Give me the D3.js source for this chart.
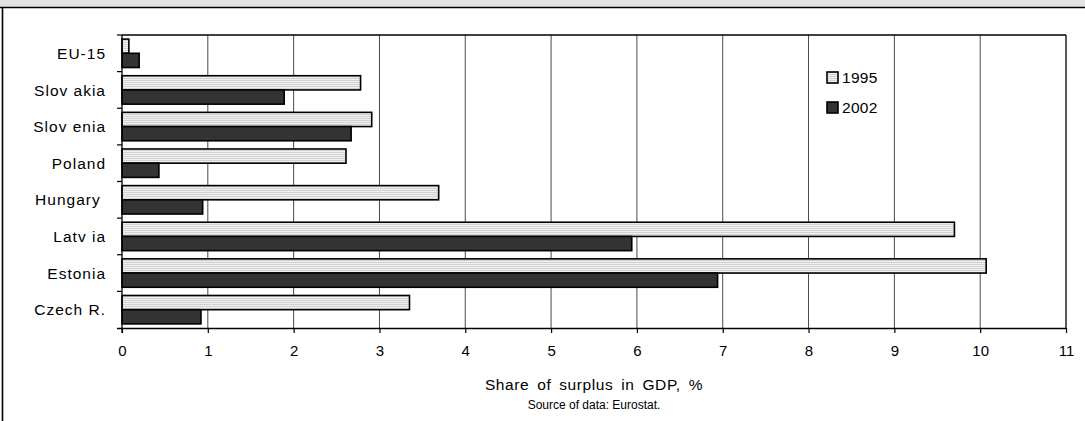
<!DOCTYPE html>
<html>
<head>
<meta charset="utf-8">
<script src="https://cdn.jsdelivr.net/npm/d3@7"></script>
<style>
  html, body { margin: 0; padding: 0; background: #fff; }
  svg { display: block; font-family: "Liberation Sans", Arial, sans-serif; }
  text { white-space: pre; }
</style>
</head>
<body>
<svg id="chart" width="1085" height="421"></svg>
<script>
// Government surplus as a share of GDP, 1995 vs 2002
const countries = ["Czech R.", "Estonia", "Latv ia", "Hungary ", "Poland", "Slov enia", "Slov akia", "EU-15"];
const years = ["1995", "2002"];
const values1995 = [3.35, 10.07, 9.70, 3.69, 2.61, 2.91, 2.78, 0.08];
const values2002 = [0.92, 6.94, 5.94, 0.94, 0.43, 2.67, 1.89, 0.20];
const xTicks = [0, 1, 2, 3, 4, 5, 6, 7, 8, 9, 10, 11];
const xTitle = "Share of surplus in GDP, %";
const sourceNote = "Source of data: Eurostat.";

const svg = d3.select("#chart");
const W = 1085, H = 421;
const plot = { left: 122, right: 1066, top: 35, bottom: 328 };

// header strip and outer frame
svg.append("rect").attr("x", 0).attr("y", 0).attr("width", W).attr("height", 7.5).attr("fill", "#e3e3e3");
svg.append("line").attr("x1", 0).attr("x2", W).attr("y1", 7.5).attr("y2", 7.5).attr("stroke", "#000").attr("stroke-width", 1.6);
svg.append("line").attr("x1", 2.5).attr("x2", 2.5).attr("y1", 7.5).attr("y2", H).attr("stroke", "#000").attr("stroke-width", 1.6);

const x = d3.scaleLinear().domain([0, 11]).range([plot.left, plot.right]);
const y = d3.scaleBand().domain(countries).range([plot.bottom, plot.top]).paddingInner(0.224).paddingOuter(0.112);
const ySub = d3.scaleBand().domain(years).range([0, y.bandwidth()]);

// stripe fill for the 1995 bars
const defs = svg.append("defs");
const pat = defs.append("pattern").attr("id", "stripes").attr("patternUnits", "userSpaceOnUse")
  .attr("width", 4).attr("height", 2);
pat.append("rect").attr("width", 4).attr("height", 2).attr("fill", "#f0f0f0");
pat.append("rect").attr("width", 4).attr("height", 1).attr("fill", "#d2d2d2");

// vertical gridlines
svg.append("g").selectAll("line").data(xTicks.filter(d => d > 0 && d < 11)).join("line")
  .attr("x1", d => x(d)).attr("x2", d => x(d))
  .attr("y1", plot.top).attr("y2", plot.bottom)
  .attr("stroke", "#4a4a4a").attr("stroke-width", 1);

// plot frame (top and right)
svg.append("line").attr("x1", plot.left).attr("x2", plot.right).attr("y1", plot.top).attr("y2", plot.top)
  .attr("stroke", "#000").attr("stroke-width", 1.3);
svg.append("line").attr("x1", plot.right).attr("x2", plot.right).attr("y1", plot.top).attr("y2", plot.bottom)
  .attr("stroke", "#000").attr("stroke-width", 1.3);

// bars
const bars = svg.append("g");
const series = [
  { key: "1995", vals: values1995, fill: "url(#stripes)" },
  { key: "2002", vals: values2002, fill: "#333333" }
];
series.forEach(s => {
  bars.append("g").selectAll("rect").data(countries).join("rect")
    .attr("x", x(0))
    .attr("y", c => y(c) + ySub(s.key))
    .attr("width", (c, i) => x(s.vals[i]) - x(0))
    .attr("height", ySub.bandwidth())
    .attr("fill", s.fill)
    .attr("stroke", "#000").attr("stroke-width", 1.6);
});

// x axis
const xAxis = d3.axisBottom(x).tickValues(xTicks).tickSize(5).tickPadding(12).tickFormat(d3.format("d"));
const gx = svg.append("g").attr("transform", `translate(0,${plot.bottom})`).call(xAxis);
gx.select(".domain").attr("d", `M${plot.left - 5},0.5H${plot.right}`).attr("stroke", "#000").attr("stroke-width", 1.3);
gx.selectAll(".tick line").attr("stroke", "#000").attr("stroke-width", 1.2);
gx.selectAll(".tick text").attr("font-size", 15).attr("fill", "#000")
  .attr("font-family", "Liberation Sans, Arial, sans-serif");

// y axis: line, boundary ticks, category labels
const step = y.step();
const gy = svg.append("g");
gy.append("line").attr("x1", plot.left).attr("x2", plot.left).attr("y1", plot.top).attr("y2", plot.bottom + 5)
  .attr("stroke", "#000").attr("stroke-width", 1.3);
gy.selectAll("line.tk").data(d3.range(countries.length)).join("line").attr("class", "tk")
  .attr("x1", plot.left - 5).attr("x2", plot.left)
  .attr("y1", i => plot.top + i * step).attr("y2", i => plot.top + i * step)
  .attr("stroke", "#000").attr("stroke-width", 1.2);
gy.selectAll("text").data(countries).join("text")
  .attr("x", 106)
  .attr("y", c => y(c) + y.bandwidth() / 2)
  .attr("dy", "0.36em")
  .attr("text-anchor", "end")
  .attr("font-size", 15.5)
  .attr("letter-spacing", 1)
  .text(c => c);

// legend
const legend = svg.append("g");
series.forEach((s, i) => {
  const ly = 72 + i * 30;
  legend.append("rect").attr("x", 827).attr("y", ly).attr("width", 11).attr("height", 11)
    .attr("fill", s.fill).attr("stroke", "#000").attr("stroke-width", 1.6);
  legend.append("text").attr("x", 842).attr("y", ly + 11).attr("font-size", 15.5).attr("letter-spacing", 0.3).text(s.key);
});

// titles
svg.append("text").attr("x", 594).attr("y", 390).attr("text-anchor", "middle")
  .attr("font-size", 15.5).attr("letter-spacing", 0.6).attr("word-spacing", 3).text(xTitle);
svg.append("text").attr("x", 594).attr("y", 409).attr("text-anchor", "middle")
  .attr("font-size", 12).text(sourceNote);
</script>
</body>
</html>
